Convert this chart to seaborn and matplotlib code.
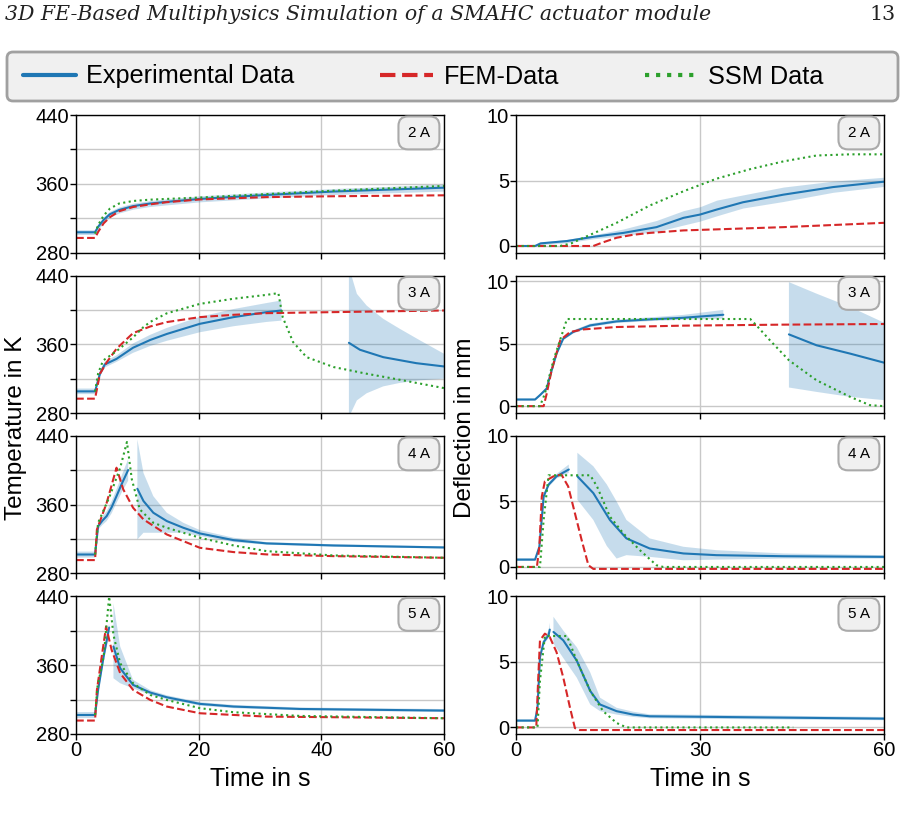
import numpy as np
import pandas as pd
import matplotlib
matplotlib.use('Agg')
import matplotlib.pyplot as plt
from matplotlib.lines import Line2D
from matplotlib.patches import FancyBboxPatch
import seaborn as sns

nan = np.nan

# ---------- 2 A ----------
t2_T_exp = [0, 3.1, 3.6, 4.5, 5.5, 7, 9.3, 12, 14.8, 20.2, 31, 42, 60]
T2_exp = [303.6, 303.6, 310, 318, 324.5, 329.5, 334, 337, 339, 342.4, 347, 351, 355.5]
T2_lo = [301, 301, 307, 314.5, 321, 326, 330.5, 333.5, 335.5, 339, 343.5, 347.5, 351.5]
T2_hi = [306.5, 306.5, 313, 321.5, 328, 333, 337.5, 340.5, 342.5, 346, 350.5, 354.5, 359.5]
t2_T_fem = [0, 3.1, 3.6, 4.5, 5.5, 7, 9.3, 12, 14.8, 20.2, 31, 42, 60]
T2_fem = [297, 297, 304, 314, 321, 328, 333, 336, 338.6, 341.8, 344.5, 345.5, 346.6]
t2_T_ssm = [3.1, 3.6, 4.5, 5.5, 7, 9.3, 12, 14.8, 20.2, 31, 42, 60]
T2_ssm = [302, 312, 323, 331, 337, 340, 341.5, 342.4, 344, 348, 352, 357.5]

t2_D_exp = [0, 3.1, 4, 8.3, 12.6, 17.5, 22.9, 27.3, 30, 32.7, 37, 43.6, 51.7, 60]
D2_exp = [0, 0, 0.2, 0.38, 0.7, 1.0, 1.44, 2.15, 2.4, 2.78, 3.34, 3.92, 4.5, 4.91]
D2_lo = [0, 0, 0.1, 0.25, 0.55, 0.8, 1.1, 1.6, 1.9, 2.3, 2.9, 3.4, 4.1, 4.55]
D2_hi = [0, 0, 0.3, 0.5, 0.85, 1.3, 1.95, 2.7, 3.0, 3.5, 3.9, 4.5, 4.95, 5.25]
t2_D_fem = [0, 12.6, 14, 16.4, 19, 21.8, 27.3, 32.7, 43.6, 60]
D2_fem = [0, 0, 0.25, 0.63, 0.85, 1.0, 1.19, 1.27, 1.44, 1.77]
t2_D_ssm = [0, 7.2, 9, 11, 13.5, 16.4, 21.8, 27.3, 32.7, 38.2, 43.6, 49, 54.5, 60]
D2_ssm = [0, 0, 0.2, 0.63, 1.15, 1.77, 3.09, 4.18, 5.14, 5.87, 6.46, 6.91, 7.0, 7.0]

# ---------- 3 A ----------
t3_T_exp = [0, 3.1, 3.9, 4.7, 6.6, 9.3, 12.1, 14.8, 20.2, 25.7, 31.1, 33.5, nan, 44.5, 46.3, 50.1, 55.5, 60]
T3_exp = [305.2, 305.2, 325.7, 336.6, 343, 356, 365, 372, 383.8, 391.6, 397.4, 399.3, nan, 361.7, 353.6, 345, 338, 334.2]
t3_T_band = [0, 3.1, 3.9, 4.7, 6.6, 9.3, 12.1, 14.8, 20.2, 25.7, 31.1, 33.5, nan, 44.5, 45.8, 47.4, 50.1, 52.8, 56.1, 60]
T3_lo = [302, 302, 322, 333, 339.5, 350, 358, 364, 374, 381, 386, 387.5, nan, 275, 294.7, 303, 311, 315, 318, 320]
T3_hi = [308.5, 308.5, 329.5, 340, 347, 361, 371, 379, 392, 401, 408, 411, nan, 450, 418.7, 405, 389.6, 378, 364.5, 349]
t3_T_fem = [0, 3.1, 3.9, 5, 6.6, 9.3, 12.1, 14.8, 20.2, 25.7, 31.1, 42, 60]
T3_fem = [296.7, 296.7, 325.7, 339, 354.8, 373, 380.7, 385.8, 391.6, 394.3, 396.2, 397.4, 399.3]
t3_T_ssm = [3.1, 3.6, 4.4, 6.6, 9.3, 11, 12.1, 14.8, 20.2, 25.7, 31.1, 33, 33.7, 35.4, 37.6, 42, 47.4, 52.8, 60]
T3_ssm = [305, 326, 341, 352, 368, 380, 386, 396, 407, 413, 417.5, 419.5, 391.6, 362.5, 345, 333.5, 325.7, 318.7, 309]

t3_D_exp = [0, 3.1, 3.9, 5, 5.5, 6.6, 7.7, 9.3, 12.1, 16.4, 21.8, 27.3, 33.8, nan, 44.5, 49, 54.5, 60]
D3_exp = [0.53, 0.53, 0.88, 1.41, 2.34, 4.2, 5.4, 5.93, 6.46, 6.78, 6.94, 7.07, 7.31, nan, 5.74, 4.87, 4.2, 3.48]
D3_lo = [0.45, 0.45, 0.78, 1.28, 2.2, 4.05, 5.27, 5.8, 6.33, 6.65, 6.8, 6.92, 7.0, nan, 1.49, 1.14, 0.74, 0.48]
D3_hi = [0.61, 0.61, 0.98, 1.55, 2.5, 4.35, 5.53, 6.06, 6.6, 6.92, 7.1, 7.3, 7.7, nan, 9.92, 9.0, 7.93, 6.68]
t3_D_fem = [0, 4.5, 5, 5.8, 7.2, 8.8, 11, 16.4, 27.3, 43.6, 60]
D3_fem = [0, 0, 1.0, 2.87, 5.27, 5.93, 6.14, 6.33, 6.44, 6.52, 6.57]
t3_D_ssm = [0, 3.9, 4.7, 6.1, 8.3, 38.2, 39.2, 41.4, 44.5, 49, 54.5, 57.7, 60]
D3_ssm = [0, 0, 1.0, 3.67, 6.97, 6.97, 6.46, 5.27, 3.67, 2.07, 0.74, 0.08, 0]

# ---------- 4 A ----------
t4_T_exp = [0, 3.1, 3.6, 4.3, 5, 5.8, 6.6, 7.5, 8.5, nan, 10, 11, 12.6, 14.8, 17.5, 20.2, 25.7, 31.1, 42, 60]
T4_exp = [302.1, 302.1, 335, 341.5, 346.8, 357, 370, 385, 400.4, nan, 378.6, 364.3, 350.7, 341, 333.2, 326.6, 318.8, 315, 312.6, 310.3]
T4_lo = [298.5, 298.5, 331, 336.5, 341, 350, 362, 375, 388, nan, 319.6, 327.4, 327.4, 327.4, 327.4, 323.5, 316.5, 313.5, 311.2, 309]
T4_hi = [305.5, 305.5, 339, 346.5, 352.5, 364, 378, 395, 413, nan, 436, 397, 370, 350.7, 339, 330.5, 321.6, 316.5, 314, 311.6]
t4_T_fem = [0, 3.1, 3.4, 5, 6.6, 7.7, 9.3, 11, 14.8, 20.2, 25.7, 31.1, 42, 60]
T4_fem = [295.6, 295.6, 331, 362.3, 403.1, 377.9, 356.5, 342.9, 325.4, 309.9, 304.9, 302.2, 300.2, 298.3]
t4_T_ssm = [3.1, 3.6, 5.5, 7.2, 8.3, 9.1, 10.4, 12.6, 14.8, 20.2, 25.7, 31.1, 42, 60]
T4_ssm = [302, 339, 370, 403, 433, 389.5, 354.6, 339, 333.2, 321.6, 312.6, 306, 301, 298.3]

t4_D_exp = [0, 3.1, 3.8, 4.5, 5.3, 6.6, 8.6, nan, 10, 12.6, 15.3, 18, 21.8, 27.3, 32.7, 43.6, 60]
D4_exp = [0.56, 0.56, 1.54, 5.38, 6.28, 6.92, 7.44, nan, 6.92, 5.64, 3.59, 2.18, 1.41, 1.03, 0.9, 0.82, 0.77]
t4_D_band = [0, 3.1, 3.8, 4.5, 5.3, 6.6, 8.6, nan, 10, 12.6, 14.8, 16.4, 18, 21.8, 27.3, 32.7, 43.6, 60]
D4_lo = [0.46, 0.46, 1.4, 5.2, 6.1, 6.75, 7.18, nan, 5.13, 3.59, 1.6, 0.64, 0.9, 0.77, 0.51, 0.56, 0.64, 0.64]
D4_hi = [0.66, 0.66, 1.7, 5.55, 6.45, 7.1, 7.82, nan, 8.72, 7.69, 6.3, 5.0, 3.59, 2.18, 1.54, 1.28, 1.03, 0.9]
t4_D_fem = [0, 3.4, 3.8, 4.2, 4.7, 6.1, 7.4, 8.5, 9.6, 10.7, 11.8, 12.6, 60]
D4_fem = [0, 0, 1.54, 5.38, 6.54, 6.92, 7.05, 6.15, 4.1, 2.05, 0.13, -0.15, -0.15]
t4_D_ssm = [0, 3.9, 4.5, 5.3, 12.1, 13.2, 15.3, 17.5, 20.2, 22.9, 24, 60]
D4_ssm = [0, 0, 3.59, 7.0, 7.0, 6.15, 3.85, 2.56, 1.28, 0.13, 0, 0]

# ---------- 5 A ----------
t5_T_exp = [0, 3.1, 3.6, 4.5, 5.4, nan, 6.1, 7.2, 9.3, 12.1, 14.8, 20.2, 25.7, 36.5, 60]
T5_exp = [302.1, 302.1, 331.3, 370.1, 403.9, nan, 381.8, 356.5, 337.1, 328.2, 322.7, 315, 311.9, 309.1, 307.2]
T5_lo = [298.5, 298.5, 327, 364, 395, nan, 344.8, 339, 333, 325.5, 320.5, 313, 310, 307.5, 305.5]
T5_hi = [305.5, 305.5, 336, 376, 409, nan, 432, 381.8, 343, 331, 325, 317, 313.8, 310.8, 309]
t5_T_fem = [0, 3.1, 3.4, 4.9, 5.8, 7.2, 9.3, 12.1, 14.8, 20.2, 31.1, 60]
T5_fem = [295.6, 295.6, 331, 405, 377.9, 350.7, 331.3, 319.6, 311.9, 304.1, 300.2, 298.3]
t5_T_ssm = [3.1, 3.5, 4.5, 5.4, 6.1, 7.2, 9.3, 12.1, 14.8, 20.2, 25.7, 36.5, 60]
T5_ssm = [302, 335, 370, 440, 395.3, 362.3, 339, 325.4, 319.6, 310, 305.3, 301, 298.3]

t5_D_exp = [0, 3.1, 3.5, 3.9, 4.5, 5.3, 5.5, nan, 6.1, 7.7, 9.9, 12.1, 13.7, 16.4, 19.1, 21.8, 32.7, 60]
D5_exp = [0.52, 0.52, 1.5, 5.36, 6.52, 7.04, 7.47, nan, 7.29, 6.65, 5.1, 2.78, 1.75, 1.24, 0.98, 0.85, 0.8, 0.67]
D5_lo = [0.42, 0.42, 1.35, 5.2, 6.35, 6.8, 7.05, nan, 6.4, 5.3, 3.8, 1.75, 1.24, 0.98, 0.8, 0.7, 0.65, 0.55]
D5_hi = [0.62, 0.62, 1.65, 5.5, 6.7, 7.4, 8.0, nan, 8.45, 7.4, 6.13, 4.2, 2.27, 1.5, 1.2, 1.0, 0.95, 0.8]
t5_D_fem = [0, 3.3, 3.6, 3.9, 4.7, 5.5, 6.6, 7.7, 8.8, 9.6, 10.4, 60]
D5_fem = [0, 0, 3.56, 6.65, 7.16, 6.9, 5.75, 3.81, 1.5, -0.05, -0.2, -0.2]
t5_D_ssm = [0, 3.5, 3.9, 4.7, 8.3, 9.9, 12.1, 14.2, 16.4, 18, 45.2]
D5_ssm = [0, 0, 3.56, 6.98, 6.98, 5.1, 2.78, 1.24, 0.34, 0, 0]

currents = ['2 A', '3 A', '4 A', '5 A']
labels = ['Experimental Data', 'FEM-Data', 'SSM Data']
c_exp, c_fem, c_ssm = '#1f77b4', '#d62728', '#2ca02c'

sns.set_theme(style='ticks')
plt.rcParams['font.family'] = ['Liberation Sans', 'DejaVu Sans']
plt.rcParams['text.color'] = 'black'
plt.rcParams['axes.labelcolor'] = 'black'


def draw(ax, t_exp, exp, t_band, lo, hi, t_fem, fem, t_ssm, ssm):
    exp = np.asarray(exp, float)
    df = pd.DataFrame({'t': t_exp, 'y': exp, 'seg': np.cumsum(np.isnan(exp))}).dropna()
    ax.fill_between(t_band, lo, hi, color=c_exp, alpha=0.25, lw=0)
    sns.lineplot(data=df, x='t', y='y', units='seg', estimator=None, color=c_exp, lw=1.5, ax=ax)
    sns.lineplot(x=t_fem, y=fem, color=c_fem, lw=1.5, ls='--', ax=ax)
    sns.lineplot(x=t_ssm, y=ssm, color=c_ssm, lw=1.5, ls=':', ax=ax)
    ax.set_xlabel('')
    ax.set_ylabel('')


fig, axes = plt.subplots(4, 2, figsize=(9.02, 8.30), dpi=100,
                         gridspec_kw=dict(left=0.0843, right=0.98, top=0.8614, bottom=0.1157,
                                          wspace=0.196, hspace=0.167))

draw(axes[0, 0], t2_T_exp, T2_exp, t2_T_exp, T2_lo, T2_hi, t2_T_fem, T2_fem, t2_T_ssm, T2_ssm)
draw(axes[0, 1], t2_D_exp, D2_exp, t2_D_exp, D2_lo, D2_hi, t2_D_fem, D2_fem, t2_D_ssm, D2_ssm)
draw(axes[1, 0], t3_T_exp, T3_exp, t3_T_band, T3_lo, T3_hi, t3_T_fem, T3_fem, t3_T_ssm, T3_ssm)
draw(axes[1, 1], t3_D_exp, D3_exp, t3_D_exp, D3_lo, D3_hi, t3_D_fem, D3_fem, t3_D_ssm, D3_ssm)
draw(axes[2, 0], t4_T_exp, T4_exp, t4_T_exp, T4_lo, T4_hi, t4_T_fem, T4_fem, t4_T_ssm, T4_ssm)
draw(axes[2, 1], t4_D_exp, D4_exp, t4_D_band, D4_lo, D4_hi, t4_D_fem, D4_fem, t4_D_ssm, D4_ssm)
draw(axes[3, 0], t5_T_exp, T5_exp, t5_T_exp, T5_lo, T5_hi, t5_T_fem, T5_fem, t5_T_ssm, T5_ssm)
draw(axes[3, 1], t5_D_exp, D5_exp, t5_D_exp, D5_lo, D5_hi, t5_D_fem, D5_fem, t5_D_ssm, D5_ssm)

for i, cur in enumerate(currents):
    axL, axR = axes[i]
    axL.set_xlim(0, 60)
    axL.set_ylim(280, 440)
    axL.set_xticks([0, 20, 40, 60])
    axL.set_yticks([280, 360, 440])
    axL.set_yticks([320, 400], minor=True)
    axR.set_xlim(0, 60)
    axR.set_ylim((-0.55, 10.45) if i == 1 else (-0.5, 10))
    axR.set_xticks([0, 30, 60])
    axR.set_yticks([0, 5, 10])
    for ax in (axL, axR):
        ax.set_axisbelow(True)
        ax.grid(True, which='both', color='#c8c8c8', lw=1)
        ax.tick_params(which='both', direction='out', length=4, width=1, labelsize=14.5,
                       color='black', labelcolor='black', pad=1)
        for s in ax.spines.values():
            s.set_color('black')
            s.set_linewidth(1)
        if i < 3:
            ax.tick_params(labelbottom=False)
        ax.text(0.932, 0.87, cur, transform=ax.transAxes, ha='center', va='center', fontsize=11,
                bbox=dict(boxstyle='round,pad=0.62', fc='#f0f0f0', ec='#aaaaaa', lw=1.5))

axes[3, 0].set_xlabel('Time in s', fontsize=18, labelpad=5)
axes[3, 1].set_xlabel('Time in s', fontsize=18, labelpad=5)
fig.text(0.018, 0.485, 'Temperature in K', rotation=90, ha='center', va='center', fontsize=17.5)
fig.text(0.516, 0.485, 'Deflection in mm', rotation=90, ha='center', va='center', fontsize=17.5)

# legend frame drawn as a separate box across the full width
fig.patches.append(FancyBboxPatch((0.07, 7.29), 8.91, 0.49, boxstyle='round,pad=0,rounding_size=0.06',
                                  transform=fig.dpi_scale_trans, fc='#f0f0f0', ec='#a0a0a0', lw=2,
                                  zorder=0))
handles = [Line2D([], [], color=c_exp, lw=3),
           Line2D([], [], color=c_fem, lw=3, ls='--'),
           Line2D([], [], color=c_ssm, lw=3, ls=':')]
fig.legend(handles, labels, loc='center left', bbox_to_anchor=(23 / 902, 1 - 76.5 / 830),
           ncol=3, fontsize=18.2, frameon=False, borderaxespad=0, borderpad=0,
           handlelength=2.1, handletextpad=0.4, columnspacing=3.4)

fig.text(0.006, 1 - 15 / 830, '3D FE-Based Multiphysics Simulation of a SMAHC actuator module',
         family='DejaVu Serif', style='italic', fontsize=14.8, va='center', color='#222222')
fig.text(0.993, 1 - 15 / 830, '13', family='DejaVu Serif', fontsize=14.8, va='center', ha='right',
         color='#222222')

fig.savefig('out.png', dpi=100)
